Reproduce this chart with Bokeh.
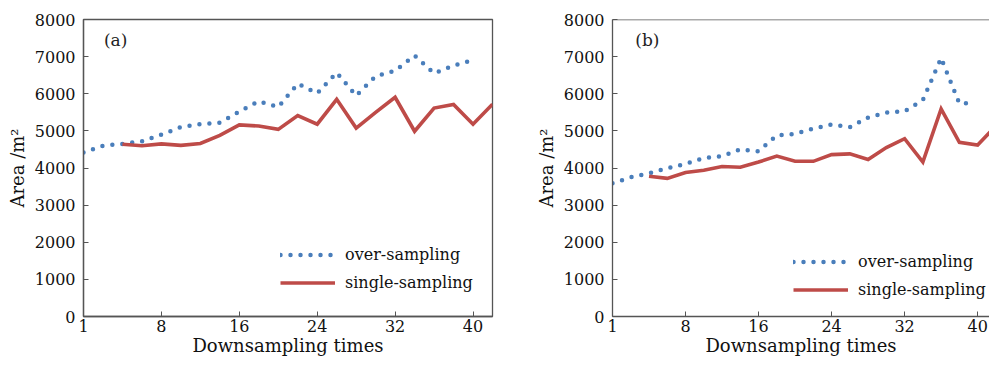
from bokeh.plotting import figure
from bokeh.layouts import row
from bokeh.models import Legend, LegendItem, Label, Span, FixedTicker, Range1d
from bokeh.embed import file_html
from bokeh.resources import INLINE

# ---------------- data ----------------
x_ticks = [0, 8, 16, 24, 32, 40]
x_tick_labels = ["1", "8", "16", "24", "32", "40"]
y_ticks = [0, 1000, 2000, 3000, 4000, 5000, 6000, 7000, 8000]

series_names = ["over-sampling", "single-sampling"]
panel_tags = ["(a)", "(b)"]

a_over_x = [0, 2, 4, 6, 8, 10, 12, 14, 16, 18, 20, 22, 24, 26, 28, 30, 32, 34, 36, 38, 39.5]
a_over_y = [4420, 4600, 4650, 4720, 4900, 5100, 5180, 5220, 5520, 5800, 5640, 6270,
            6010, 6570, 5950, 6470, 6620, 7030, 6550, 6760, 6870]
a_single_x = [4, 6, 8, 10, 12, 14, 16, 18, 20, 22, 24, 26, 28, 30, 32, 34, 36, 38, 40, 42]
a_single_y = [4640, 4600, 4650, 4610, 4660, 4880, 5160, 5130, 5040, 5410, 5180, 5850,
              5075, 5500, 5905, 4990, 5615, 5710, 5180, 5720]

b_over_x = [0, 2, 4, 6, 8, 10, 12, 14, 16, 18, 20, 22, 24, 26, 28, 30, 32, 34, 36, 38, 39.5]
b_over_y = [3590, 3750, 3860, 3990, 4110, 4270, 4320, 4500, 4450, 4880, 4920, 5060,
            5170, 5100, 5360, 5490, 5530, 5830, 6960, 5740, 5750]
b_single_x = [4, 6, 8, 10, 12, 14, 16, 18, 20, 22, 24, 26, 28, 30, 32, 34, 36, 38, 40, 42]
b_single_y = [3780, 3720, 3880, 3940, 4040, 4020, 4160, 4320, 4180, 4180, 4360, 4380,
              4230, 4550, 4790, 4160, 5590, 4690, 4620, 5130]

BLUE = "#4a7ebb"
RED = "#be4b48"
AX = "#555555"
FONT = "DejaVu Serif"


def make_panel(width, x_end, border_left, border_right,
               over_x, over_y, single_x, single_y, tag, tag_x, legend_xy, outline):
    p = figure(width=width, height=360, x_range=Range1d(0, x_end), y_range=Range1d(0, 8000),
               output_backend="svg", toolbar_location=None,
               min_border_left=border_left, min_border_right=border_right,
               min_border_top=19, min_border_bottom=44)
    p.grid.visible = False
    p.background_fill_color = "white"
    p.border_fill_color = "white"
    if outline:
        p.outline_line_color = AX
        p.outline_line_width = 1.3
    else:
        p.outline_line_color = None
        p.add_layout(Span(location=8000, dimension="width", line_color=AX, line_width=1.5))

    for ax in (p.xaxis[0], p.yaxis[0]):
        ax.axis_line_color = AX
        ax.axis_line_width = 1.3
        ax.major_tick_line_color = AX
        ax.major_tick_in = 5
        ax.major_tick_out = 0
        ax.minor_tick_line_color = None
        ax.major_label_text_font = FONT
        ax.major_label_text_font_size = "16px"
        ax.major_label_text_color = "#111111"
        ax.axis_label_text_font = FONT
        ax.axis_label_text_font_size = "18px"
        ax.axis_label_text_font_style = "normal"
        ax.axis_label_text_color = "#111111"

    p.xaxis.major_label_standoff = 3
    p.yaxis.major_label_standoff = 8
    p.xaxis.ticker = FixedTicker(ticks=x_ticks)
    p.xaxis.major_label_overrides = {t: l for t, l in zip(x_ticks, x_tick_labels)}
    p.yaxis.ticker = FixedTicker(ticks=y_ticks)
    p.xaxis.axis_label = "Downsampling times"
    p.yaxis.axis_label = "Area /m\u00b2"
    p.xaxis.axis_label_standoff = 0
    p.yaxis.axis_label_standoff = 4

    r_over = p.line(over_x, over_y, line_color=BLUE, line_width=4.5,
                    line_dash="0 10", line_cap="round")
    r_single = p.line(single_x, single_y, line_color=RED, line_width=3.6, line_join="miter")

    legend = Legend(items=[LegendItem(label=series_names[0], renderers=[r_over]),
                           LegendItem(label=series_names[1], renderers=[r_single])],
                    location=legend_xy, padding=0, margin=0, spacing=3,
                    glyph_width=55, glyph_height=25, label_height=25, label_standoff=10,
                    label_text_font=FONT, label_text_font_size="16px",
                    label_text_color="#111111",
                    border_line_color=None, background_fill_alpha=0)
    p.add_layout(legend, "center")

    p.add_layout(Label(x=tag_x, y=7460, text=tag, text_font=FONT, text_font_size="17px",
                       text_color="#222222", text_baseline="middle"))
    return p


p1 = make_panel(500, 42, 83, 8, a_over_x, a_over_y, a_single_x, a_single_y,
                panel_tags[0], 2.1, (197, 21), True)
p2 = make_panel(489, 41.3, 112, 0, b_over_x, b_over_y, b_single_x, b_single_y,
                panel_tags[1], 2.5, (181, 14), False)

layout = row(p1, p2)
open("out.html", "w").write(file_html(layout, INLINE))
